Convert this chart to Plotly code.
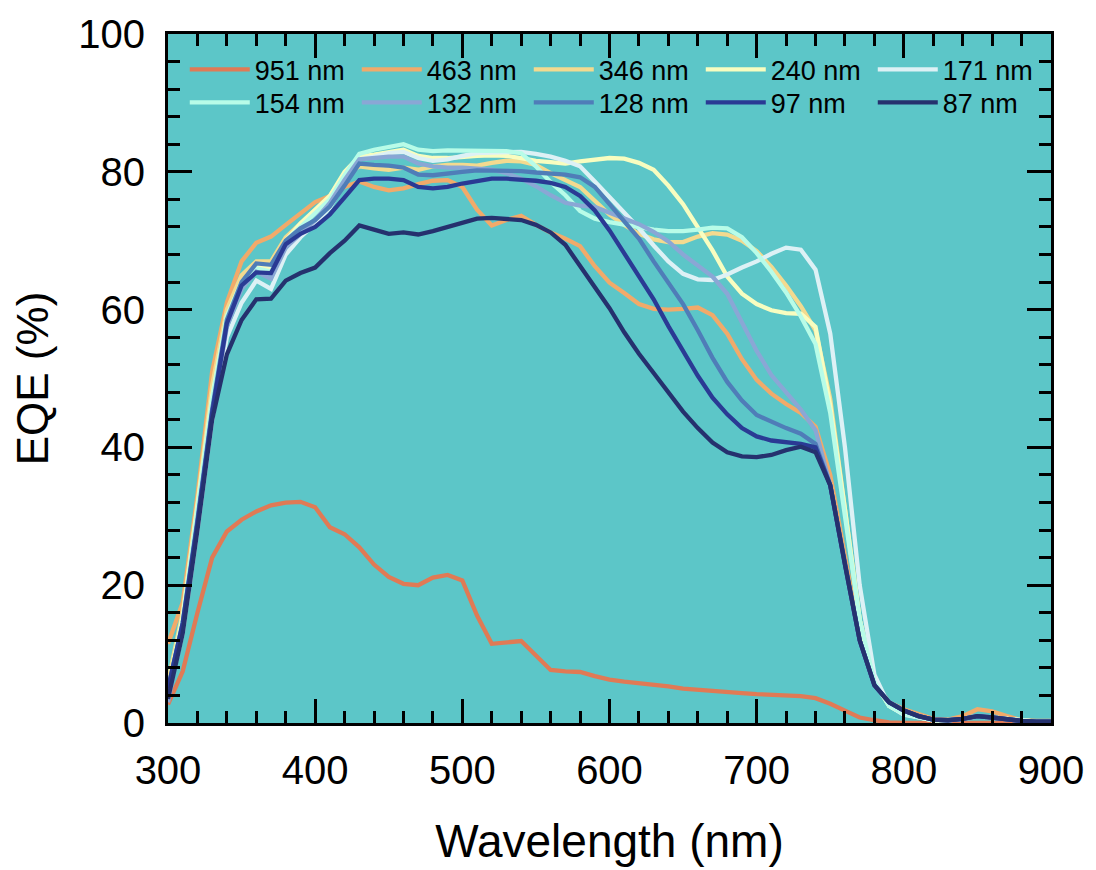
import plotly.graph_objects as go

wavelength = list(range(300, 901, 10))

labels = ["951 nm", "463 nm", "346 nm", "240 nm", "171 nm",
          "154 nm", "132 nm", "128 nm", "97 nm", "87 nm"]
colors = ["#E07A55", "#F1AA6A", "#F3DA8F", "#F8FDC0", "#DDF1F5",
          "#B8FCE8", "#8AA7D5", "#4F7DB8", "#2A3A94", "#25316E"]

eqe_951 = [2.7, 7.5, 16, 24, 27.8, 29.5, 30.7, 31.6, 32, 32.1,
           31.3, 28.4, 27.4, 25.5, 23, 21.2, 20.2, 20, 21.1, 21.5,
           20.7, 15.6, 11.5, 11.7, 11.9, 9.8, 7.7, 7.5, 7.4, 6.8,
           6.3, 6.0, 5.8, 5.5, 5.3, 5.0, 4.8, 4.6, 4.5, 4.35,
           4.2, 4.1, 4.0, 3.9, 3.6, 2.8, 1.8, 0.8, 0.4, 0.1,
           0, 0, 0, 0, 0, 0, 0, 0, 0, 0,
           0]
eqe_463 = [11.5, 17.5, 33, 51, 61, 67, 69.7, 70.6, 72.3, 74,
           75.6, 76.5, 77.8, 78.6, 77.8, 77.3, 77.6, 78.2, 78.7, 78.8,
           77.8, 74.5, 72.2, 73, 73.6, 72.3, 71.2, 70.3, 69.2, 66.3,
           63.9, 62.4, 60.8, 60.1, 60, 60.1, 60.3, 59.2, 56.5, 52.8,
           49.8, 47.8, 46.3, 45, 43, 36, 24, 12.5, 5.8, 3.0,
           2.0, 1.3, 0.6, 0.5, 1.0, 2.0, 1.7, 1.0, 0.4, 0.3,
           0.3]
eqe_346 = [6, 16, 32, 49, 60, 65, 67, 67, 70.5, 72.5,
           74.5, 76.5, 79.5, 80.8, 80.5, 80.3, 80.6, 80.3, 80.8, 81,
           81, 80.9, 81.3, 81.6, 81.5, 81, 79.8, 78.8, 77.8, 75.8,
           73.8, 72.3, 71, 70.2, 69.8, 69.8, 70.6, 71.1, 70.9, 70,
           68.5, 66.2, 63.5, 60.5, 57, 47, 31, 15, 6, 2.5,
           1.3, 0.8, 0.4, 0.4, 0.6, 1.0, 0.8, 0.5, 0.3, 0.2,
           0.2]
eqe_240 = [5, 15.5, 31.5, 47.5, 59, 64, 66.5, 66, 70, 72.5,
           74.5, 76.5, 80, 82.2, 82.5, 82.8, 83.2, 82.3, 82, 82,
           82.2, 82.3, 82.4, 82.3, 82, 81.6, 81.4, 81.2, 81.5, 81.8,
           82, 81.9, 81.3, 80.3, 78, 75.3, 72, 68.6, 64.8, 62.3,
           60.8, 59.9, 59.5, 59.4, 57.5, 46, 31, 15, 6, 2.5,
           1.3, 0.8, 0.4, 0.4, 0.6, 1.0, 0.8, 0.5, 0.3, 0.2,
           0.2]
eqe_171 = [4, 13, 28, 44, 56, 61, 64.2, 63, 68, 70.5,
           72.5, 74.8, 78.5, 81.8, 82.2, 82.7, 82.9, 82, 81.6, 81.8,
           82.3, 82.7, 82.8, 82.9, 82.9, 82.6, 82.2, 81.6, 80.8, 78.6,
           76.4, 74.2, 71.8, 69.3, 67, 65.2, 64.4, 64.3, 65.1, 66.1,
           67, 68.1, 69, 68.7, 65.8, 56.5, 40, 20, 7, 2.5,
           1.2, 0.8, 0.4, 0.4, 0.6, 1.0, 0.8, 0.5, 0.3, 0.2,
           0.2]
eqe_154 = [5, 15, 31, 47, 59, 64, 66, 65.5, 70, 72,
           74, 76, 79.5, 82.6, 83.2, 83.6, 84, 83.2, 83, 83.1,
           83.1, 83.1, 83.1, 83, 82.7, 80.8, 78.5, 76.6, 74.3, 73.2,
           72.7, 72.3, 72, 71.6, 71.4, 71.4, 71.6, 71.9, 71.8, 70.5,
           68.2, 65.5, 62.5, 59, 55, 45, 30, 15, 6, 2.5,
           1.3, 0.8, 0.4, 0.4, 0.6, 1.0, 0.8, 0.5, 0.3, 0.2,
           0.2]
eqe_132 = [3, 14, 29, 45, 57.5, 63, 65.5, 64.5, 69, 71,
           73, 75.5, 78.8, 81.8, 82, 82.2, 82.2, 81.2, 80.8, 80.6,
           80.6, 80.5, 80.3, 79.8, 79, 77.9, 76.6, 75.5, 75.1, 74.9,
           74.1, 73.3, 72.4, 71.3, 69.9, 68, 66.3, 64.8, 62.3, 58,
           54, 50.5, 48, 45.5, 42.5, 34.5, 23, 12, 5.5, 3.0,
           1.8, 1.0, 0.5, 0.4, 0.6, 1.0, 0.8, 0.5, 0.3, 0.2,
           0.2]
eqe_128 = [5, 14.5, 29.5, 45.5, 58.5, 64, 66.7, 66.5, 70, 71.8,
           73, 75, 78, 81.2, 81, 80.9, 80.6, 79.6, 79.5, 79.8,
           80, 80.2, 80.2, 80.2, 80.1, 79.9, 79.8, 79.6, 79.2, 77.8,
           75.3, 72.8, 70.3, 67, 64, 60.8, 57, 53, 49.5, 46.8,
           44.7, 43.7, 42.8, 42, 40.5, 34.5, 23, 12, 5.5, 3.0,
           1.8, 1.0, 0.5, 0.4, 0.6, 1.0, 0.8, 0.5, 0.3, 0.2,
           0.2]
eqe_97 = [5, 14.5, 29, 45, 58, 63.5, 65.4, 65.3, 69.5, 71,
          72, 73.8, 76.3, 78.8, 79, 79, 78.8, 77.8, 77.6, 77.8,
          78.3, 78.7, 79, 79, 78.9, 78.7, 78.4, 77.8, 76.5, 74.4,
          71.5, 68.2, 64.8, 61.5, 57.6, 53.9, 50.4, 47.2, 44.8, 42.8,
          41.6, 41, 40.7, 40.5, 40, 34.5, 23, 12, 5.5, 3.0,
          1.8, 1.0, 0.5, 0.4, 0.6, 1.0, 0.8, 0.5, 0.3, 0.2,
          0.2]
eqe_87 = [3.5, 13, 28, 44, 53.5, 58.5, 61.5, 61.6, 64.2, 65.3,
          66.1, 68.2, 70, 72.2, 71.6, 71, 71.2, 70.9, 71.4, 72,
          72.6, 73.2, 73.3, 73.2, 73, 72.3, 71.2, 69.4, 66.4, 63.4,
          60.2, 56.7, 53.6, 50.8, 47.9, 45.2, 42.8, 40.7, 39.3, 38.7,
          38.6, 38.9, 39.6, 40.1, 39.3, 34.5, 23, 12, 5.5, 3.0,
          1.8, 1.0, 0.5, 0.4, 0.6, 1.0, 0.8, 0.5, 0.3, 0.2,
          0.2]

series = [eqe_951, eqe_463, eqe_346, eqe_240, eqe_171,
          eqe_154, eqe_132, eqe_128, eqe_97, eqe_87]

fig = go.Figure()
for i, (name, col, ys) in enumerate(zip(labels, colors, series)):
    fig.add_trace(go.Scatter(x=wavelength, y=ys, mode="lines", name=name,
                             line=dict(color=col, width=4.3),
                             legend="legend" if i < 5 else "legend2"))

axis_common = dict(
    ticks="inside", ticklen=24, tickwidth=2.5, tickcolor="black",
    showline=True, linewidth=3, linecolor="black", mirror="allticks",
    showgrid=False, zeroline=False,
    tickfont=dict(size=40, color="black"),
)

legend_common = dict(
    orientation="h", x=0.019, xanchor="left", yanchor="middle",
    bgcolor="rgba(0,0,0,0)",
    font=dict(size=27, color="black", family="Liberation Sans, Arial"),
    itemwidth=60, entrywidth=97, entrywidthmode="pixels",
    tracegroupgap=0,
)

fig.update_layout(
    width=1096, height=870,
    margin=dict(l=168, r=42, t=34, b=139),
    paper_bgcolor="white",
    plot_bgcolor="#5CC6C8",
    font=dict(family="Liberation Sans, Arial, sans-serif", color="black"),
    showlegend=True,
    legend=dict(y=0.948, **legend_common),
    legend2=dict(y=0.900, **legend_common),
    xaxis=dict(
        range=[300, 900], tick0=300, dtick=100,
        title=dict(text="Wavelength (nm)", font=dict(size=46), standoff=34),
        minor=dict(dtick=20, ticks="inside", ticklen=12, tickwidth=2.5,
                   tickcolor="black", showgrid=False),
        ticklabelstandoff=10,
        **axis_common,
    ),
    yaxis=dict(
        range=[0, 100], tick0=0, dtick=20,
        title=dict(text="EQE (%)", font=dict(size=44), standoff=16),
        minor=dict(dtick=4, ticks="inside", ticklen=12, tickwidth=2.5,
                   tickcolor="black", showgrid=False),
        ticklabelstandoff=12,
        **axis_common,
    ),
)

fig.write_html("out.html")
